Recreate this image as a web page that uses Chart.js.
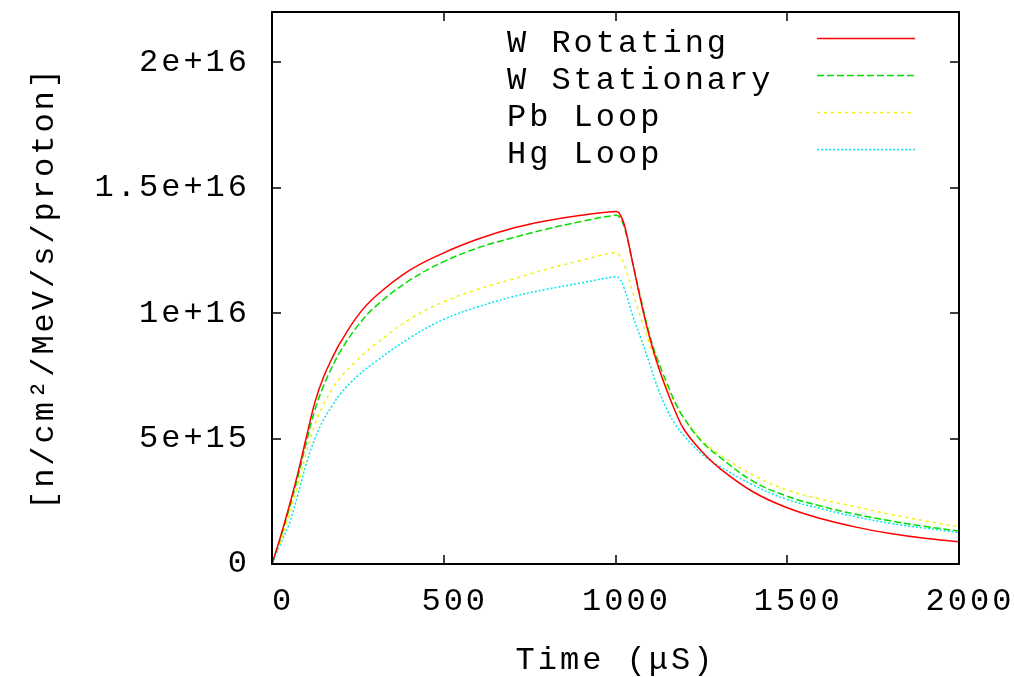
<!DOCTYPE html>
<html>
<head>
<meta charset="utf-8">
<script src="https://cdn.jsdelivr.net/npm/chart.js@4.4.1/dist/chart.umd.min.js"></script>
<style>
  html, body { margin: 0; padding: 0; background: #fff; }
  #wrap { width: 1014px; height: 677px; }
</style>
</head>
<body>
<div id="wrap"><canvas id="flux-chart" width="1014" height="677"></canvas></div>
<script>
// time in microseconds, flux in units of 1e15 n/cm2/MeV/s/proton
const times = [0, 25, 50, 75, 100, 125, 150, 175, 200, 250, 300, 400, 500, 600, 700, 800, 900, 1000,
  1010, 1025, 1050, 1075, 1100, 1125, 1150, 1175, 1200, 1250, 1300, 1400, 1500, 1600, 1700, 1800, 1900, 2000];

const wRotating = [0, 1.1, 2.3, 3.6, 5.05, 6.45, 7.45, 8.2, 8.85, 9.9, 10.65, 11.7, 12.4, 12.95, 13.38, 13.68, 13.9, 14.05,
  14.0, 13.55, 12.0, 10.4, 9.0, 7.85, 6.9, 6.05, 5.35, 4.5, 3.85, 2.88, 2.24, 1.8, 1.47, 1.22, 1.03, 0.89];
const wStationary = [0, 1.05, 2.2, 3.45, 4.85, 6.15, 7.1, 7.85, 8.5, 9.5, 10.25, 11.3, 12.05, 12.6, 13.0, 13.35, 13.65, 13.9,
  13.85, 13.45, 12.0, 10.5, 9.1, 8.05, 7.2, 6.4, 5.8, 4.9, 4.3, 3.3, 2.7, 2.3, 1.98, 1.72, 1.5, 1.31];
const pbLoop = [0, 0.9, 1.95, 3.1, 4.45, 5.55, 6.35, 6.95, 7.45, 8.15, 8.75, 9.75, 10.45, 10.95, 11.35, 11.75, 12.1, 12.42,
  12.35, 11.95, 10.85, 9.75, 8.75, 7.85, 7.05, 6.35, 5.8, 4.95, 4.4, 3.55, 2.95, 2.58, 2.28, 1.98, 1.72, 1.48];
const hgLoop = [0, 0.8, 1.6, 2.75, 4.0, 5.0, 5.75, 6.3, 6.8, 7.5, 8.05, 9.0, 9.75, 10.25, 10.65, 10.95, 11.2, 11.45,
  11.4, 11.0, 9.9, 8.95, 7.95, 6.95, 6.15, 5.55, 5.1, 4.4, 3.92, 3.15, 2.57, 2.2, 1.88, 1.62, 1.43, 1.26];

const seriesLabels = ["W Rotating", "W Stationary", "Pb Loop", "Hg Loop"];
const xTicks = [0, 500, 1000, 1500, 2000];
const yTicks = [0, 5e15, 1e16, 1.5e16, 2e16];
const yTickLabels = ["0", "5e+15", "1e+16", "1.5e+16", "2e+16"];

const toPoints = (arr) => times.map((t, i) => ({ x: t, y: arr[i] * 1e15 }));

const monoFont = { family: "'Liberation Mono', monospace", size: 32, lineHeight: 1 };

// gnuplot style frame, inward ticks on all four sides, and the legend box
const framePlugin = {
  id: "frame",
  beforeLayout(chart) { chart.ctx.letterSpacing = "3px"; },
  beforeDraw(chart) { chart.ctx.letterSpacing = "3px"; },
  afterDraw(chart) {
    const { ctx, chartArea: a } = chart;
    const x = chart.scales.x, y = chart.scales.y;
    ctx.save();
    ctx.strokeStyle = "#000";
    ctx.lineWidth = 1.5;
    ctx.beginPath();
    xTicks.forEach((v) => {
      const px = Math.round(x.getPixelForValue(v));
      ctx.moveTo(px, a.bottom); ctx.lineTo(px, a.bottom - 9);
      ctx.moveTo(px, a.top); ctx.lineTo(px, a.top + 9);
    });
    yTicks.forEach((v) => {
      const py = Math.round(y.getPixelForValue(v));
      ctx.moveTo(a.left, py); ctx.lineTo(a.left + 9, py);
      ctx.moveTo(a.right, py); ctx.lineTo(a.right - 9, py);
    });
    ctx.stroke();
    ctx.lineWidth = 2;
    ctx.strokeRect(a.left, a.top, a.right - a.left, a.bottom - a.top);

    // legend: text on the left, line sample on the right
    ctx.font = "32px 'Liberation Mono', monospace";
    ctx.fillStyle = "#000";
    ctx.textAlign = "left";
    ctx.textBaseline = "alphabetic";
    chart.data.datasets.forEach((ds, i) => {
      const rowY = 38 + i * 37;
      ctx.fillText(ds.label, 507, rowY + 14);
      ctx.save();
      ctx.strokeStyle = ds.borderColor;
      ctx.lineWidth = ds.borderWidth;
      ctx.setLineDash(ds.borderDash || []);
      ctx.beginPath();
      ctx.moveTo(817, rowY + 0.5);
      ctx.lineTo(915, rowY + 0.5);
      ctx.stroke();
      ctx.restore();
    });
    ctx.restore();
  }
};

const ctx = document.getElementById("flux-chart").getContext("2d");

window.fluxChart = new Chart(ctx, {
  type: "line",
  data: {
    datasets: [
      { label: seriesLabels[0], data: toPoints(wRotating), borderColor: "#ff0000", borderWidth: 1.5, borderDash: [] },
      { label: seriesLabels[1], data: toPoints(wStationary), borderColor: "#00dd00", borderWidth: 1.5, borderDash: [7, 3] },
      { label: seriesLabels[2], data: toPoints(pbLoop), borderColor: "#f2f200", borderWidth: 1.5, borderDash: [3, 4] },
      { label: seriesLabels[3], data: toPoints(hgLoop), borderColor: "#00e6ee", borderWidth: 1.5, borderDash: [2, 2] },
    ],
  },
  options: {
    responsive: false,
    animation: false,
    layout: { padding: { top: 12, right: 55, left: 0, bottom: 0 } },
    elements: {
      point: { radius: 0 },
      line: { fill: false, tension: 0.4 },
    },
    plugins: {
      legend: { display: false },
      tooltip: { enabled: false },
    },
    scales: {
      x: {
        type: "linear",
        min: 0,
        max: 2000,
        grid: { display: false, drawTicks: false },
        border: { display: false },
        ticks: {
          font: monoFont,
          color: "#000",
          padding: 22,
          labelOffset: 11,
          maxRotation: 0,
          autoSkip: false,
          callback: (v) => String(v),
        },
        afterBuildTicks: (s) => { s.ticks = xTicks.map((v) => ({ value: v })); },
        afterFit: (s) => { s.height = 113; s.paddingLeft = 0; s.paddingRight = 0; },
        title: { display: true, text: "Time (μS)", color: "#000", font: monoFont, padding: { top: 0, bottom: 0 } },
      },
      y: {
        type: "linear",
        min: 0,
        max: 2.2e16,
        grid: { display: false, drawTicks: false },
        border: { display: false },
        ticks: {
          font: monoFont,
          color: "#000",
          padding: 22,
          callback: (v) => yTickLabels[yTicks.indexOf(v)],
        },
        afterBuildTicks: (s) => { s.ticks = yTicks.map((v) => ({ value: v })); },
        afterFit: (s) => { s.width = 272; s.paddingTop = 0; s.paddingBottom = 0; },
        title: { display: true, text: "[n/cm²/MeV/s/proton]", color: "#000", font: monoFont, padding: { top: 29, bottom: 0 } },
      },
    },
  },
  plugins: [framePlugin],
});
</script>
</body>
</html>
